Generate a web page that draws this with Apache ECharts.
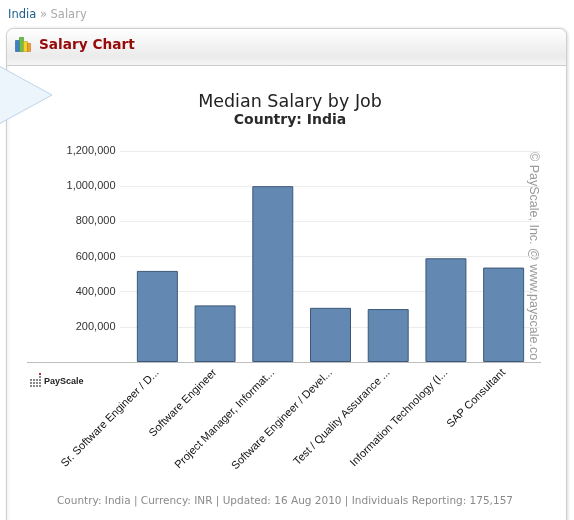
<!DOCTYPE html>
<html>
<head>
<meta charset="utf-8">
<script src="https://cdn.jsdelivr.net/npm/echarts@6/dist/echarts.min.js"></script>
<style>
html,body{margin:0;padding:0;background:#fff;}
#c{width:574px;height:520px;}
</style>
</head>
<body>
<div id="c"></div>
<script>
var categories = [
  'Sr. Software Engineer / D...',
  'Software Engineer',
  'Project Manager, Informat...',
  'Software Engineer / Devel...',
  'Test / Quality Assurance ...',
  'Information Technology (I...',
  'SAP Consultant'
];
var salaries = [518000, 322000, 1000000, 308000, 301000, 590000, 537000];
var yTicks = [0, 200000, 400000, 600000, 800000, 1000000, 1200000];

var chart = echarts.init(document.getElementById('c'), null, {renderer: 'canvas'});

var fmt = function (v) { return v === 0 ? '' : v.toLocaleString('en-US'); };

var option = {
  backgroundColor: '#fff',
  animation: false,
  title: [
    {text: 'Median Salary by Job', left: 285, top: 88, textAlign: 'center',
     textStyle: {fontFamily: 'DejaVu Sans', fontSize: 17.5, fontWeight: 'normal', color: '#222'}},
    {text: 'Country: India', left: 285, top: 108, textAlign: 'center',
     textStyle: {fontFamily: 'DejaVu Sans', fontSize: 14, fontWeight: 'bold', color: '#2a2a2a'}}
  ],
  grid: [
    {left: 128.5, right: 41.5, top: 151, bottom: 158, containLabel: false},
    {left: 120, right: 34, top: 151, bottom: 158, containLabel: false}
  ],
  xAxis: [
    {type: 'category', gridIndex: 0, data: categories,
     axisLine: {show: false}, axisTick: {show: false},
     axisLabel: {interval: 0, rotate: 45, margin: 9, fontFamily: 'Liberation Sans', fontSize: 11, color: '#111'}},
    {type: 'value', gridIndex: 1, show: false, min: 0, max: 1}
  ],
  yAxis: [
    {type: 'value', gridIndex: 0, min: yTicks[0], max: yTicks[yTicks.length - 1], interval: yTicks[1] - yTicks[0],
     axisLine: {show: false}, axisTick: {show: false}, splitLine: {show: false},
     axisLabel: {formatter: fmt, margin: 13, fontFamily: 'Liberation Sans', fontSize: 11, color: '#333'}},
    {type: 'value', gridIndex: 1, min: yTicks[0], max: yTicks[yTicks.length - 1], interval: yTicks[1] - yTicks[0],
     axisLine: {show: false}, axisTick: {show: false}, axisLabel: {show: false},
     splitLine: {show: true, lineStyle: {color: '#ececec', width: 1}}}
  ],
  series: [
    {type: 'bar', xAxisIndex: 0, yAxisIndex: 0, data: salaries, barWidth: '71%',
     itemStyle: {color: '#6388b2', borderColor: '#3c5878', borderWidth: 1}}
  ],
  graphic: [
    // page chrome
    {type: 'text', left: 8, top: 9, z: 10,
     style: {rich: {a: {fill: '#1d5e8c', fontFamily: 'DejaVu Sans', fontSize: 11.5},
                    b: {fill: '#aaa', fontFamily: 'DejaVu Sans', fontSize: 11.5}},
             text: '{a|India}{b| » Salary}'}},
    {type: 'rect', shape: {x: 6.5, y: 28.5, width: 560, height: 520, r: [7, 7, 0, 0]}, z: -10,
     style: {fill: '#fff', stroke: '#cfcfcf', lineWidth: 1, shadowBlur: 3, shadowColor: 'rgba(0,0,0,0.12)', shadowOffsetX: 1}},
    {type: 'rect', shape: {x: 7, y: 29, width: 559, height: 36, r: [7, 7, 0, 0]}, z: -9,
     style: {fill: new echarts.graphic.LinearGradient(0, 0, 0, 1, [
       {offset: 0, color: '#ffffff'}, {offset: 0.75, color: '#ebebeb'}, {offset: 1, color: '#f4f4f4'}])}},
    {type: 'line', shape: {x1: 7, y1: 65.5, x2: 566, y2: 65.5}, z: -8, style: {stroke: '#cccccc', lineWidth: 1}},
    // header icon
    {type: 'rect', shape: {x: 15.5, y: 40.5, width: 4, height: 11}, style: {fill: '#3f7fd0', stroke: '#2a5a99', lineWidth: 0.6}},
    {type: 'rect', shape: {x: 19.5, y: 37.5, width: 4, height: 14}, style: {fill: '#6cc04a', stroke: '#3f8a2a', lineWidth: 0.6}},
    {type: 'rect', shape: {x: 23.5, y: 41.5, width: 4, height: 10}, style: {fill: '#f2d22e', stroke: '#c29d12', lineWidth: 0.6}},
    {type: 'rect', shape: {x: 27.5, y: 43.5, width: 3, height: 8}, style: {fill: '#f0a030', stroke: '#c07010', lineWidth: 0.6}},
    {type: 'text', left: 39, top: 38,
     style: {text: 'Salary Chart', fill: '#960a0a', fontFamily: 'DejaVu Sans', fontSize: 13.7, fontWeight: 'bold'}},
    // callout triangle
    {type: 'polygon', shape: {points: [[-1, 66], [52, 95], [-1, 124]]}, z: 5,
     style: {fill: '#edf5fc', stroke: '#bcd4e8', lineWidth: 1}},
    // baseline
    {type: 'line', shape: {x1: 27, y1: 362.5, x2: 541, y2: 362.5}, z: 20, style: {stroke: '#bdbdbd', lineWidth: 1}},
    // watermark
    {type: 'text', x: 540, y: 152, rotation: -Math.PI / 2,
     style: {text: '© PayScale, Inc. @ www.payscale.co', fill: '#9a9a9a', fontFamily: 'Liberation Sans', fontSize: 12.5,
             textAlign: 'left', textVerticalAlign: 'top'}},
    // payscale logo
    {type: 'group', left: 30, top: 373, children: [
      {type: 'rect', shape: {x: 0, y: 6, width: 2, height: 2}, style: {fill: '#888'}},
      {type: 'rect', shape: {x: 3, y: 6, width: 2, height: 2}, style: {fill: '#888'}},
      {type: 'rect', shape: {x: 6, y: 6, width: 2, height: 2}, style: {fill: '#888'}},
      {type: 'rect', shape: {x: 9, y: 6, width: 2, height: 2}, style: {fill: '#888'}},
      {type: 'rect', shape: {x: 0, y: 9, width: 2, height: 2}, style: {fill: '#888'}},
      {type: 'rect', shape: {x: 3, y: 9, width: 2, height: 2}, style: {fill: '#888'}},
      {type: 'rect', shape: {x: 6, y: 9, width: 2, height: 2}, style: {fill: '#888'}},
      {type: 'rect', shape: {x: 9, y: 9, width: 2, height: 2}, style: {fill: '#888'}},
      {type: 'rect', shape: {x: 0, y: 12, width: 2, height: 2}, style: {fill: '#888'}},
      {type: 'rect', shape: {x: 3, y: 12, width: 2, height: 2}, style: {fill: '#888'}},
      {type: 'rect', shape: {x: 6, y: 12, width: 2, height: 2}, style: {fill: '#888'}},
      {type: 'rect', shape: {x: 9, y: 12, width: 2, height: 2}, style: {fill: '#888'}},
      {type: 'rect', shape: {x: 9, y: 0, width: 2, height: 2}, style: {fill: '#b03040'}},
      {type: 'rect', shape: {x: 9, y: 3, width: 2, height: 2}, style: {fill: '#888'}},
      {type: 'text', x: 14, y: 4, style: {text: 'PayScale', fill: '#222', fontFamily: 'Liberation Sans', fontSize: 9, fontWeight: 'bold'}}
    ]},
    // footer
    {type: 'text', x: 285, y: 501,
     style: {text: 'Country: India | Currency: INR | Updated: 16 Aug 2010 | Individuals Reporting: 175,157',
             fill: '#8a8a8a', fontFamily: 'DejaVu Sans', fontSize: 10.5, textAlign: 'center', textVerticalAlign: 'middle'}}
  ]
};
chart.setOption(option);
</script>
</body>
</html>
